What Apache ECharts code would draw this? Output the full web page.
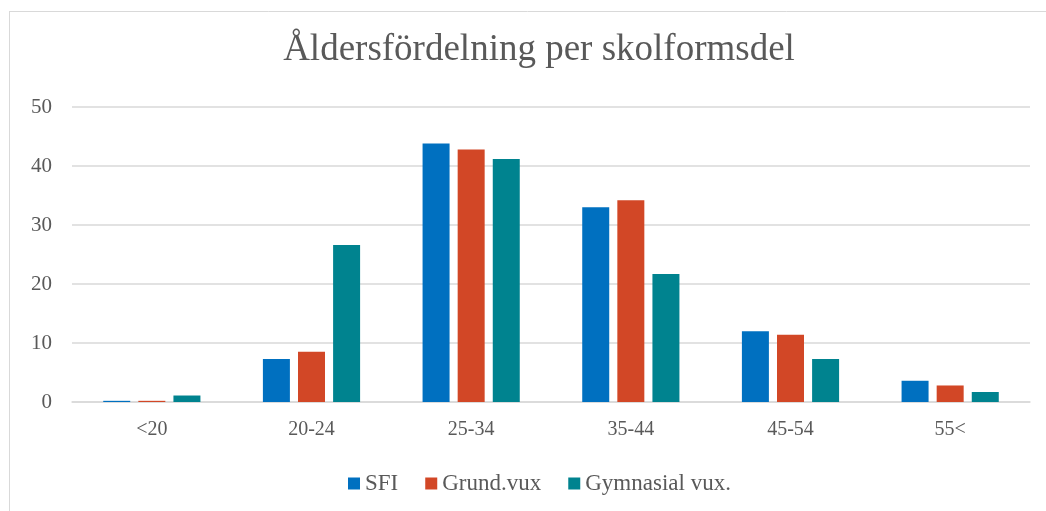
<!DOCTYPE html>
<html><head><meta charset="utf-8">
<script src="https://cdn.jsdelivr.net/npm/echarts@6/dist/echarts.min.js"></script>
<style>html,body{margin:0;padding:0;background:#fff}#c{width:1046px;height:511px}</style>
</head><body><div id="c"></div>
<script>
const categories = ['<20', '20-24', '25-34', '35-44', '45-54', '55<'];
const seriesNames = ['SFI', 'Grund.vux', 'Gymnasial vux.'];
const sfi = [0.2, 7.3, 43.8, 33.0, 12.0, 3.6];
const grund = [0.2, 8.5, 42.8, 34.2, 11.4, 2.8];
const gymnasial = [1.1, 26.6, 41.2, 21.7, 7.3, 1.7];
const colors = ['#0070C0', '#D24726', '#00838F'];
const font = '"Liberation Serif", "Times New Roman", serif';
const chart = echarts.init(document.getElementById('c'));
chart.setOption({
  animation: false,
  color: colors,
  title: {text: 'Åldersfördelning per skolformsdel', left: 534, textAlign: 'center', top: 27,
    textStyle: {fontFamily: font, fontSize: 37, fontWeight: 'normal', color: '#595959'}},
  legend: {bottom: 11, left: 343, itemWidth: 12, itemHeight: 12, itemGap: 27,
    icon: 'rect', textStyle: {fontFamily: font, fontSize: 23, color: '#595959'},
    data: seriesNames},
  grid: {left: 72, right: 16, top: 107, bottom: 109},
  xAxis: {type: 'category', data: categories,
    axisLine: {lineStyle: {color: '#d9d9d9', width: 1.5}}, axisTick: {show: false},
    axisLabel: {fontFamily: font, fontSize: 20, color: '#595959', margin: 18}},
  yAxis: {type: 'value', min: 0, max: 50, interval: 10,
    axisLine: {show: false}, axisTick: {show: false},
    splitLine: {lineStyle: {color: '#d9d9d9', width: 1.5}},
    axisLabel: {fontFamily: font, fontSize: 21, color: '#595959', margin: 20}},
  series: [
    {name: seriesNames[0], type: 'bar', data: sfi, barWidth: 27, barGap: '30%'},
    {name: seriesNames[1], type: 'bar', data: grund, barWidth: 27, barGap: '30%'},
    {name: seriesNames[2], type: 'bar', data: gymnasial, barWidth: 27, barGap: '30%'}
  ],
  graphic: [
    {type: 'line', shape: {x1: 9, y1: 11.5, x2: 1046, y2: 11.5}, style: {stroke: '#d9d9d9', lineWidth: 1}},
    {type: 'line', shape: {x1: 9.5, y1: 11, x2: 9.5, y2: 511}, style: {stroke: '#d9d9d9', lineWidth: 1}}
  ]
});
</script></body></html>
